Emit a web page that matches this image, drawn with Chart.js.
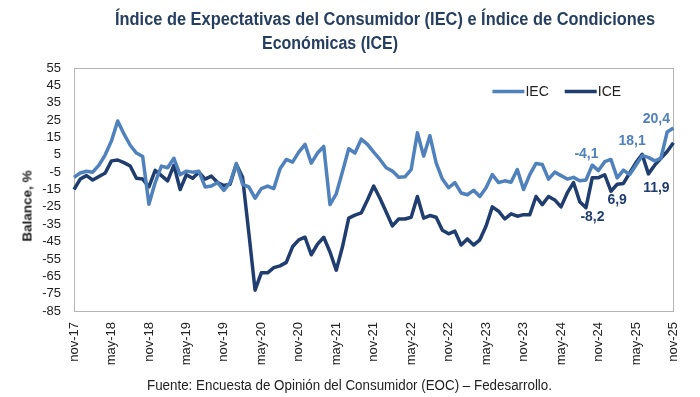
<!DOCTYPE html>
<html>
<head>
<meta charset="utf-8">
<script src="https://cdn.jsdelivr.net/npm/chart.js@4.4.1/dist/chart.umd.min.js"></script>
<style>
  body { margin: 0; background: #fff; }
  #wrap { position: relative; width: 700px; height: 397px; }
  .txt { position: absolute; white-space: nowrap; transform-origin: 0 50%; }
  .title { font-family: "Liberation Sans", Arial, sans-serif; font-weight: bold; font-size: 18px; color: #263f61; }
  #ytitle { font-family: "Liberation Sans", Arial, sans-serif; font-weight: bold; font-size: 13.5px; color: #1a1a1a;
            left: 27px; top: 206px; transform-origin: 50% 50%; transform: translate(-50%, -50%) rotate(-90deg); }
  #source { font-family: "Liberation Sans", Arial, sans-serif; font-size: 14px; color: #222; left: 147px; top: 377px; }
</style>
</head>
<body>
<div id="wrap">
  <canvas id="chartContainer" width="700" height="397"></canvas>
  <div class="txt title" id="t1" data-w="540" style="left:115px; top:9px;">Índice de Expectativas del Consumidor (IEC) e Índice de Condiciones</div>
  <div class="txt title" id="t2" data-w="136" style="left:262px; top:33px;">Económicas (ICE)</div>
  <div class="txt" id="ytitle">Balance, %</div>
  <div class="txt" id="source" data-w="405">Fuente: Encuesta de Opinión del Consumidor (EOC) – Fedesarrollo.</div>
</div>
<script>
"use strict";

// 1: data
const monthNames = ['ene', 'feb', 'mar', 'abr', 'may', 'jun', 'jul', 'ago', 'sep', 'oct', 'nov', 'dic'];
const firstYear = 2017;
const firstMonth = 10; // nov
const monthCount = 97; // nov-17 .. nov-25

const iec = [
  -8, -5.5, -4.5, -5, -1, 5, 13, 24.5, 17, 10.5, 6, 4,
  -23.5, -11, -1.5, -2.5, 3, -6.5, -4.4, -5, -4.5, -13.5, -13, -11,
  -15.5, -11, 0, -12, -13.5, -20, -14.5, -13, -14.5, -3, 2.3, 0.8,
  6.5, 11, 0.2, 6, 9.8, -23.7, -17.5, -4.7, 8.5, 6, 14, 11,
  6.5, 2.3, -2.5, -4.4, -8, -7.7, -3.5, 17.7, 4.2, 16, 0.4, -9,
  -14, -11, -17, -18, -15.5, -19, -14, -6.4, -11, -10, -10.8, -3.5,
  -15, -6.4, 0, -0.6, -9, -5, -7, -9, -8, -10, -9.5, -1,
  -4.1, 1, 2.3, -8.3, -3.8, -6.4, -1, 4.5, 3.5, 1.5, 3, 18.1,
  20.4
];

const ice = [
  -15, -9, -7, -9.5, -7.5, -5.5, 1.5, 2, 0.5, -1.5, -8.5, -9,
  -13.5, -4, -7, -10, -1, -15, -6.5, -8.5, -5, -9, -7.3, -11,
  -12.7, -12, -0.5, -8, -40, -73, -63, -63, -60, -59, -57, -48,
  -44, -42.5, -52.6, -46.5, -42.5, -51, -61.5, -48, -31.5, -29.8, -28.5, -21,
  -13, -20, -28, -36, -32, -32, -31, -19, -31.5, -30, -31, -38.5,
  -40.5, -39, -47, -43.5, -47, -44, -36, -25, -27.5, -32, -29, -30.4,
  -29.5, -29.5, -19, -23.7, -19, -21, -25, -17, -11, -22, -25.5, -8.3,
  -8.2, -6.5, -16, -12, -11.5, -5.5, 0.5, 5.2, -6, -1, 3, 6.9,
  11.9
];

const yTicks = [55, 45, 35, 25, 15, 5, -5, -15, -25, -35, -45, -55, -65, -75, -85];

// labelled points: series, month index, offset of the text centre
const pointLabels = [
  { series: 0, index: 84, dx: -12, dy: -16 },
  { series: 1, index: 84, dx: -6, dy: 39 },
  { series: 0, index: 95, dx: -35, dy: 9 },
  { series: 1, index: 95, dx: -50, dy: 49 },
  { series: 0, index: 96, dx: -17, dy: -9 },
  { series: 1, index: 96, dx: -17, dy: 45 }
];

const lightBlue = '#4f81bd';
const darkBlue = '#1f3d6e';

// squeeze the narrow-font texts to their width in the picture
document.querySelectorAll('[data-w]').forEach(el => {
  const w = el.getBoundingClientRect().width;
  el.style.transform = 'scaleX(' + (Number(el.dataset.w) / w) + ')';
});

// 2: prepare data for chart
function prepareMonths() {
  let months = [];
  for (let i = 0; i < monthCount; i++) {
    let m = (firstMonth + i) % 12;
    let y = firstYear + Math.floor((firstMonth + i) / 12);
    months.push(monthNames[m] + '-' + String(y).slice(2));
  }
  return months;
}

function formatValue(v) {
  return v.toFixed(1).replace('.', ',');
}

// frame round the plot area
const framePlugin = {
  id: 'frame',
  beforeDatasetsDraw(chart) {
    const a = chart.chartArea;
    const ctx = chart.ctx;
    ctx.save();
    ctx.strokeStyle = '#b4b4b4';
    ctx.lineWidth = 1;
    ctx.strokeRect(Math.round(a.left) + 0.5, Math.round(a.top) + 0.5,
      Math.round(a.right - a.left), Math.round(a.bottom - a.top));
    ctx.restore();
  }
};

// legend inside the plot, top right
const legendPlugin = {
  id: 'innerLegend',
  afterDraw(chart) {
    const ctx = chart.ctx;
    const a = chart.chartArea;
    let x = a.right - 181;
    const y = a.top + 23.5;
    ctx.save();
    ctx.font = '14px "Liberation Sans", Arial, sans-serif';
    ctx.textBaseline = 'middle';
    chart.data.datasets.forEach(ds => {
      ctx.strokeStyle = ds.borderColor;
      ctx.lineWidth = 3.5;
      ctx.beginPath();
      ctx.moveTo(x, y);
      ctx.lineTo(x + 32, y);
      ctx.stroke();
      ctx.fillStyle = '#222';
      ctx.fillText(ds.label, x + 33, y + 0.5);
      x += 33 + ctx.measureText(ds.label).width + 16;
    });
    ctx.restore();
  }
};

// value labels
const valuePlugin = {
  id: 'valueLabels',
  afterDatasetsDraw(chart) {
    const ctx = chart.ctx;
    ctx.save();
    ctx.font = 'bold 14px "Liberation Sans", Arial, sans-serif';
    ctx.textAlign = 'center';
    ctx.textBaseline = 'middle';
    pointLabels.forEach(l => {
      const ds = chart.data.datasets[l.series];
      const pt = chart.getDatasetMeta(l.series).data[l.index];
      ctx.fillStyle = ds.borderColor;
      ctx.fillText(formatValue(ds.data[l.index]), pt.x + l.dx, pt.y + l.dy);
    });
    ctx.restore();
  }
};

// 3: create and append the chart
function appendChart() {
  const months = prepareMonths();
  const chartContainer = document.getElementById('chartContainer');
  new Chart(chartContainer, {
    type: 'line',
    data: {
      labels: months,
      datasets: [{
        label: 'IEC',
        data: iec,
        borderColor: lightBlue,
        backgroundColor: lightBlue,
        borderWidth: 3.5,
        pointRadius: 0,
        tension: 0,
        borderJoinStyle: 'round'
      },
      {
        label: 'ICE',
        data: ice,
        borderColor: darkBlue,
        backgroundColor: darkBlue,
        borderWidth: 3.5,
        pointRadius: 0,
        tension: 0,
        borderJoinStyle: 'round'
      }]
    },
    options: {
      responsive: false,
      animation: false,
      layout: { padding: { top: 68, right: 24, left: 0, bottom: 0 } },
      plugins: {
        legend: { display: false },
        title: { display: false },
        tooltip: { enabled: false }
      },
      scales: {
        x: {
          grid: { display: false, drawTicks: false },
          border: { display: false },
          afterFit(scale) { scale.height = 86; },
          ticks: {
            autoSkip: false,
            minRotation: 90,
            maxRotation: 90,
            padding: 11,
            color: '#222',
            font: { family: '"Liberation Sans", Arial, sans-serif', size: 13 },
            callback(value, index) {
              return index % 6 === 0 ? months[index] : '';
            }
          }
        },
        y: {
          min: -85,
          max: 55,
          afterFit(scale) { scale.width = 74; },
          afterBuildTicks(scale) {
            scale.ticks = yTicks.map(v => ({ value: v }));
          },
          grid: {
            drawTicks: false,
            color(c) { return c.tick && c.tick.value === 0 ? '#a6a6a6' : 'rgba(0,0,0,0)'; }
          },
          border: { display: false },
          ticks: {
            autoSkip: false,
            padding: 13,
            color: '#222',
            font: { family: '"Liberation Sans", Arial, sans-serif', size: 13 }
          }
        }
      }
    },
    plugins: [framePlugin, valuePlugin, legendPlugin]
  });
}

appendChart();
</script>
</body>
</html>
